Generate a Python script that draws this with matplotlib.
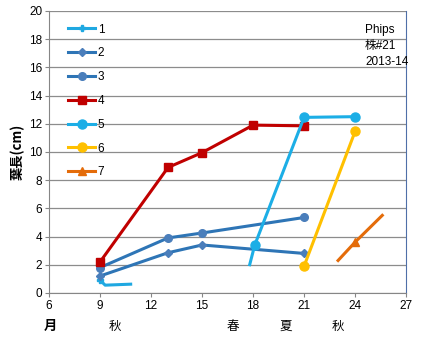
import matplotlib
matplotlib.use("Agg")
import matplotlib.pyplot as plt

plt.rcParams['font.family'] = ['Liberation Sans', 'Noto Sans CJK JP', 'DejaVu Sans']

# leaf length per plant label, month index on x
names = ['1', '2', '3', '4', '5', '6', '7']
x1 = [9, 9.3, 10.8]
y1 = [0.9, 0.55, 0.62]
x2 = [9, 13, 15, 21]
y2 = [1.2, 2.85, 3.4, 2.8]
x3 = [9, 13, 15, 21]
y3 = [1.8, 3.9, 4.25, 5.35]
x4 = [9, 13, 15, 18, 21]
y4 = [2.2, 8.9, 9.95, 11.9, 11.85]
x5 = [17.8, 18.1, 21, 24]
y5 = [2.0, 3.4, 12.45, 12.5]
x6 = [21, 24]
y6 = [1.9, 11.45]
x7 = [23.0, 24.0, 25.6]
y7 = [2.3, 3.6, 5.5]

seasons = ['秋', '春', '夏', '秋']
season_x = [9.9, 16.8, 19.9, 23.0]

fig = plt.figure(figsize=(4.23, 3.41), dpi=100)
ax = fig.add_axes([0.116, 0.141, 0.844, 0.827])

lw = 2.2
ax.plot(x1, y1, color='#1FA8E1', lw=lw, marker='P', ms=4, markevery=[0], label=names[0])
ax.plot(x2, y2, color='#2E75B6', lw=lw, marker='D', ms=4, mfc='#4A7EBB', mec='#4A7EBB', label=names[1])
ax.plot(x3, y3, color='#2E75B6', lw=lw, marker='o', ms=5.5, mfc='#4A7EBB', mec='#4A7EBB', label=names[2])
ax.plot(x4, y4, color='#C00000', lw=lw, marker='s', ms=5.5, label=names[3])
ax.plot(x5, y5, color='#1CAEE6', lw=lw, marker='o', ms=6.5, markevery=[1, 2, 3], label=names[4])
ax.plot(x6, y6, color='#FFC000', lw=lw, marker='o', ms=6.5, label=names[5])
ax.plot(x7, y7, color='#E46C0A', lw=lw, marker='^', ms=6, markevery=[1], label=names[6])

ax.set_xlim(6, 27)
ax.set_ylim(0, 20)
ax.set_xticks(range(6, 28, 3))
ax.set_yticks(range(0, 21, 2))
ax.yaxis.grid(True, color='#8C8C8C', lw=0.9)
ax.set_axisbelow(True)
ax.tick_params(axis='both', labelsize=8.5, length=3, color='#868686', pad=2)
for s in ['left', 'bottom']:
    ax.spines[s].set_color('#868686')
ax.spines['top'].set_visible(False)
ax.spines['right'].set_color('#4F6FA8')

ax.set_ylabel('葉長(cm)', fontsize=9.5, fontweight='bold', labelpad=3,
              family=['Noto Sans CJK JP', 'DejaVu Sans'])

leg = ax.legend(loc='upper left', bbox_to_anchor=(0.04, 0.972), frameon=False,
                fontsize=8.5, handlelength=2.3, handletextpad=0.2,
                labelspacing=1.0, borderaxespad=0)

ax.text(0.885, 0.955, 'Phips\n株#21\n2013-14', transform=ax.transAxes,
        fontsize=8.5, va='top', ha='left', linespacing=1.45,
        family=['Liberation Sans', 'Noto Sans CJK JP'])

ax.text(6.1, -2.35, '月', fontsize=9.5, fontweight='bold', ha='center', va='center',
        family=['Noto Sans CJK JP', 'DejaVu Sans'])
for sx, st in zip(season_x, seasons):
    ax.text(sx, -2.35, st, fontsize=9, ha='center', va='center',
            family=['Noto Sans CJK JP', 'DejaVu Sans'])

fig.savefig('out.png', dpi=100)
